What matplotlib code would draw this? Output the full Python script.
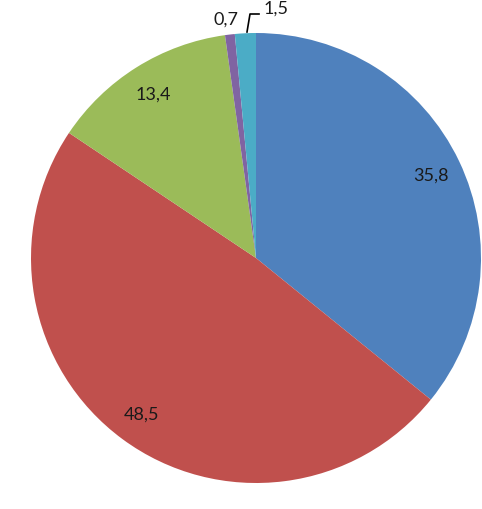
import matplotlib.pyplot as plt

values = [35.8, 48.5, 13.4, 0.7, 1.5]
labels = ["35,8", "48,5", "13,4", "0,7", "1,5"]
colors = ["#4F81BD", "#C0504D", "#9BBB59", "#8064A2", "#4BACC6"]

W, H = 482, 510
fig = plt.figure(figsize=(W / 100, H / 100), dpi=100)
ax = fig.add_axes([0, 0, 1, 1])

cx, cy, r = 256, H - 259, 225
wedges, texts = ax.pie(values, colors=colors, startangle=90, counterclock=False,
                       center=(cx, cy), radius=r, labels=labels, labeldistance=0.86,
                       textprops=dict(fontsize=13, family="Lato", color="#1a1a1a"),
                       frame=True)
ax.set_xlim(0, W)
ax.set_ylim(0, H)
ax.set_aspect("equal")
ax.axis("off")

for t in texts:
    t.set_ha("center")
    t.set_va("center")

# small slices get labels outside
texts[3].set_position((226, H - 20))
texts[4].set_position((276, H - 9))
ax.plot([247, 250, 259], [H - 33, H - 15, H - 15], color="black", lw=1.2)

fig.savefig("out.png", dpi=100)
